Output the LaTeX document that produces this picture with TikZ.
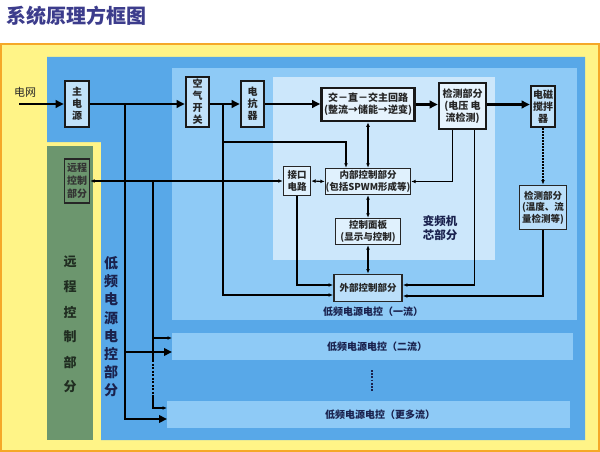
\documentclass[tikz,border=0pt]{standalone}
\usepackage{fontspec}
\setmainfont{Noto Sans CJK SC}
\usetikzlibrary{arrows.meta, positioning, calc}
\definecolor{TitleBlue}{RGB}{60,60,140}
\definecolor{PaleYellow}{RGB}{255,244,135}
\definecolor{EdgeOrange}{RGB}{245,168,40}
\definecolor{MidBlue}{RGB}{88,168,232}
\definecolor{LightBlue}{RGB}{142,202,246}
\definecolor{CoreBlue}{RGB}{204,231,251}
\definecolor{RemoteGreen}{RGB}{108,150,110}
\definecolor{InkNavy}{RGB}{26,34,78}

\begin{document}
\begin{tikzpicture}[x=1pt, y=-1pt,
  heavybox/.style={draw=black!90, line width=2.6pt, fill=LightBlue!55!white, inner sep=0pt,
    align=center, text=black!85, font=\fontsize{10}{12}\selectfont\bfseries},
  lightbox/.style={draw=black!85, line width=1.4pt, fill=CoreBlue!60!white, inner sep=0pt,
    align=center, text=black!85, font=\fontsize{9.5}{11.5}\selectfont\bfseries},
  power/.style={line width=2.6pt, -{Triangle[length=8pt,width=7.5pt]}},
  powerline/.style={line width=2.6pt},
  ctrl/.style={line width=1.1pt},
  tip/.style={-{Latex[length=4.5pt,width=3.8pt]}},
  twotip/.style={{Latex[length=4.5pt,width=3.8pt]}-{Latex[length=4.5pt,width=3.8pt]}},
  bandlbl/.style={text=InkNavy, font=\fontsize{10}{10}\selectfont\bfseries}]
  \useasboundingbox (0,0) rectangle (600,452);
  % backgrounds
  \fill[white] (0,0) rectangle (600,452);
  \node[anchor=west, text=TitleBlue, font=\fontsize{20}{20}\selectfont\bfseries] (title) at (3,16) {系统原理方框图};
  \fill[PaleYellow] (0,43) rectangle (600,452);
  \draw[EdgeOrange, line width=1.6pt] (0.8,43.8) rectangle (599.2,451.2);
  \fill[MidBlue] (47,57) -- (585,57) -- (585,440) -- (101,440) -- (101,142) -- (47,142) -- cycle;
  \fill[RemoteGreen] (47,146) rectangle (93,440);
  \fill[LightBlue] (172,68) rectangle (577,320);
  \fill[CoreBlue] (273,77) rectangle (495,260);
  \fill[LightBlue] (172,333) rectangle (573,360);
  \fill[LightBlue] (167,401) rectangle (570,428);

  % blocks
  \node[heavybox, minimum width=24, minimum height=46] (mainpwr) at (77,104) {主\\电\\源};
  \node[heavybox, minimum width=23, minimum height=50] (airsw) at (197.5,102) {空\\气\\开\\关};
  \node[heavybox, minimum width=23, minimum height=46] (reactor) at (252.5,104) {电\\抗\\器};
  \node[heavybox, fill=CoreBlue!50!white, minimum width=93, minimum height=33] (mainloop) at (368,104.5) {交－直－交主回路\\(整流→储能→逆变)};
  \node[heavybox, fill=CoreBlue!50!white, minimum width=47, minimum height=46] (detectv) at (462.5,106) {检测部分\\(电压\ 电\\流检测)};
  \node[heavybox, minimum width=24, minimum height=41] (stirrer) at (543,106.5) {电磁\\搅拌\\器};
  \node[lightbox, line width=1.8pt, fill=LightBlue!60!white, minimum width=47, minimum height=44] (tempdet) at (543,207.5) {检测部分\\(温度、流\\量检测等)};
  \node[lightbox, minimum width=79, minimum height=26] (inner) at (368,181.5) {内部控制部分\\(包括SPWM形成等)};
  \node[lightbox, minimum width=27, minimum height=29] (iface) at (297,181) {接口\\电路};
  \node[lightbox, minimum width=65, minimum height=26] (panel) at (368,231.5) {控制面板\\(显示与控制)};
  \node[lightbox, line width=1.8pt, fill=LightBlue!60!white, minimum width=68, minimum height=27] (outer) at (368,288) {外部控制部分};
  \node[lightbox, fill=RemoteGreen, text=black!80, minimum width=25, minimum height=44,
    font=\fontsize{10}{13}\selectfont\bfseries] (remote) at (77,181) {远程\\控制\\部分};

  % labels
  \node[text=black!85, font=\fontsize{11}{11}\selectfont] (gridlbl) at (25,92) {电网};
  \node[align=center, text=InkNavy, font=\fontsize{11.5}{14}\selectfont\bfseries] (corelbl) at (440,228) {变频机\\芯部分};
  \node[bandlbl] (band1lbl) at (373,312) {低频电源电控（一流）};
  \node[bandlbl] (band2lbl) at (377,347) {低频电源电控（二流）};
  \node[bandlbl] (band3lbl) at (380,415) {低频电源电控（更多流）};
  \foreach \c [count=\i] in {低,频,电,源,电,控,部,分}
    \node[text=InkNavy, font=\fontsize{14}{14}\selectfont\bfseries] (lowlbl\i) at (111,{245+\i*18.2}) {\c};
  \foreach \c [count=\i] in {远,程,控,制,部,分}
    \node[text=black!70!RemoteGreen, font=\fontsize{13}{13}\selectfont\bfseries] (remlbl\i) at (70,{237+\i*25}) {\c};
  \draw[InkNavy, line width=1.8pt, dash pattern=on 1.8pt off 1.4pt] (372,370) -- (372,392);

  % power path
  \coordinate (gridin) at (19,104);
  \coordinate (tap1) at (125,104);
  \coordinate (tap2) at (125,352);
  \coordinate (tap4) at (223,104);
  \coordinate (band2in) at (172,352);
  \coordinate (band3in) at (167,419);
  \draw[power] (gridin) -- (mainpwr.west);
  \draw[power] (mainpwr.east) -- (airsw.west |- mainpwr.east);
  \draw[power] (airsw.east |- mainpwr.east) -- (reactor.west);
  \draw[power] (reactor.east) -- (mainloop.west |- reactor.east);
  \draw[power] (mainloop.east) -- (detectv.west |- mainloop.east);
  \draw[power] (detectv.east |- mainloop.east) -- (stirrer.west |- mainloop.east);
  \draw[power] (tap1) |- (band3in);
  \draw[power] (tap2) -- (band2in);

  % control paths
  \coordinate (tap3) at (153,181);
  \coordinate (band2c) at (172,338);
  \coordinate (band3c) at (167,408);
  \draw[ctrl] (tap3) -- (153,360);
  \draw[ctrl, tip] (153,338) -- (band2c);
  \draw[ctrl, dash pattern=on 2pt off 1.5pt] (153,360) -- (153,395);
  \draw[ctrl, tip] (153,395) |- (band3c);
  \draw[ctrl, twotip] (remote.east) -- (iface.west);
  \draw[ctrl, tip] (tap4) |- ($(outer.west)+(0,7)$);
  \draw[ctrl, tip] (223,142) -| ($(inner.north)+(-22,0)$);
  \draw[ctrl, twotip] (mainloop.south) -- (inner.north);
  \draw[ctrl, twotip] (iface.east) -- (inner.west);
  \draw[ctrl, twotip] (inner.south) -- (panel.north);
  \draw[ctrl, twotip] (panel.south) -- (outer.north);
  \draw[ctrl, tip] (iface.south) |- ($(outer.west)+(0,-3)$);
  \draw[ctrl, tip] ($(detectv.south)+(-10,0)$) |- (inner.east);
  \draw[ctrl, tip] ($(detectv.south)+(12,0)$) |- ($(outer.east)+(0,-3)$);
  \draw[ctrl, tip, dash pattern=on 1.6pt off 1.4pt] (stirrer.south) -- (tempdet.north);
  \draw[ctrl, tip] (tempdet.south) |- ($(outer.east)+(0,8)$);
\end{tikzpicture}
\end{document}
